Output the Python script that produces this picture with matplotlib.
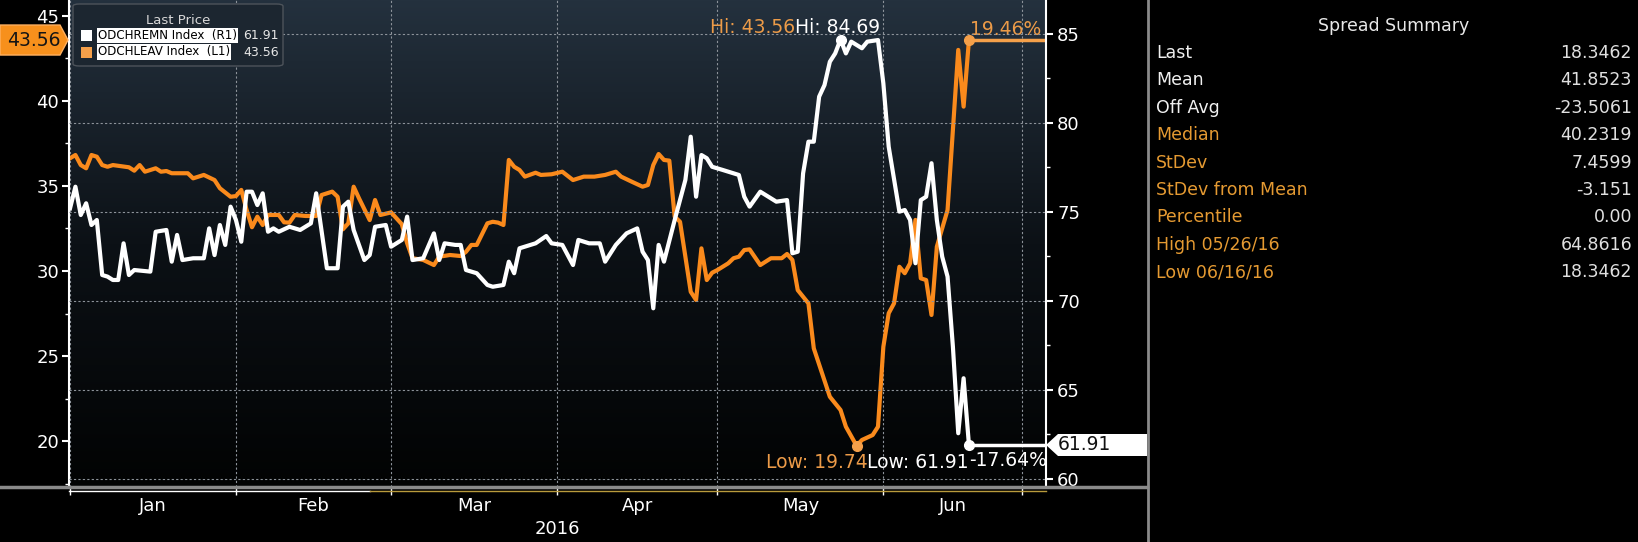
import matplotlib.pyplot as plt
import numpy as np
import pandas as pd
from matplotlib.colors import LinearSegmentedColormap
from matplotlib.lines import Line2D
from matplotlib.patches import Polygon, Rectangle, FancyBboxPatch
from matplotlib.ticker import MultipleLocator
from matplotlib.transforms import IdentityTransform

# day offsets from 2016-01-01 and values
remn_day = [0, 1, 2, 3, 4, 5, 6, 7, 8, 9, 10, 11, 12, 15, 16, 18, 19, 20, 21, 23, 25, 26, 27, 28, 29,
            30, 31, 32, 33, 34, 35, 36, 37, 38, 39, 41, 43, 45, 46, 48, 50, 51, 52, 53, 55, 56, 57, 59,
            60, 62, 63, 64, 66, 68, 69, 70, 72, 73, 74, 76, 78, 79, 81, 82, 83, 84, 87, 89, 90, 92, 94,
            95, 97, 99, 100, 102, 104, 106, 107, 108, 109, 110, 111, 113, 115, 116, 117, 118, 119, 120,
            122, 124, 125, 126, 127, 129, 132, 134, 135, 136, 137, 138, 139, 140, 141, 142, 143, 144,
            145, 146, 148, 149, 151, 152, 153, 155, 156, 157, 158, 159, 160, 161, 162, 163, 164, 165,
            166, 167, 168]
remn_val = [75.21, 76.42, 74.83, 75.49, 74.27, 74.55, 71.46, 71.37, 71.18, 71.18, 73.24, 71.46, 71.74,
            71.65, 73.89, 73.99, 72.21, 73.71, 72.30, 72.40, 72.40, 74.08, 72.58, 74.27, 73.15, 75.30,
            74.55, 73.33, 76.14, 76.14, 75.39, 76.05, 73.89, 74.08, 73.89, 74.17, 73.99, 74.36, 76.05,
            71.84, 71.84, 75.30, 75.58, 73.99, 72.30, 72.58, 74.17, 74.27, 73.05, 73.43, 74.74, 72.30,
            72.40, 73.80, 72.30, 73.24, 73.15, 73.15, 71.74, 71.56, 70.90, 70.80, 70.90, 72.21, 71.56,
            72.96, 73.24, 73.65, 73.24, 73.15, 72.02, 73.43, 73.24, 73.24, 72.21, 73.15, 73.80, 74.08,
            72.77, 72.30, 69.59, 73.15, 72.21, 74.55, 76.80, 79.23, 75.86, 78.20, 78.02, 77.54, 77.36,
            77.17, 77.08, 75.86, 75.30, 76.14, 75.58, 75.67, 72.68, 72.77, 77.17, 78.95, 78.95, 81.48,
            82.13, 83.44, 83.91, 84.69, 83.91, 84.57, 84.20, 84.57, 84.66, 82.23, 78.67, 75.02, 75.11,
            74.55, 72.12, 75.67, 75.86, 77.74, 74.55, 72.49, 71.37, 67.43, 62.57, 65.66, 61.91]

leav_day = [0, 1, 2, 3, 4, 5, 6, 7, 8, 11, 12, 13, 14, 16, 17, 18, 19, 22, 23, 25, 27, 28, 30, 31, 32,
            33, 34, 35, 36, 37, 39, 40, 41, 42, 44, 46, 47, 49, 50, 51, 52, 53, 54, 56, 57, 58, 60, 62,
            63, 64, 66, 68, 69, 71, 73, 74, 75, 76, 78, 79, 80, 81, 82, 83, 84, 85, 87, 88, 90, 92, 94,
            96, 98, 100, 102, 103, 105, 107, 108, 109, 110, 111, 112, 113, 114, 115, 116, 117, 118, 119,
            120, 121, 123, 124, 125, 126, 127, 129, 131, 133, 134, 135, 136, 138, 139, 142, 144, 145,
            147, 148, 150, 151, 152, 153, 154, 155, 156, 157, 158, 159, 160, 161, 162, 164, 166, 167, 168]
leav_val = [36.62, 36.81, 36.22, 36.03, 36.81, 36.71, 36.22, 36.12, 36.22, 36.09, 35.89, 36.22, 35.83,
            36.03, 35.83, 35.87, 35.74, 35.74, 35.44, 35.64, 35.34, 34.86, 34.36, 34.40, 34.76, 33.58,
            32.57, 33.19, 32.70, 33.29, 33.29, 32.86, 32.84, 33.29, 33.23, 33.23, 34.46, 34.66, 34.36,
            32.45, 32.80, 34.95, 34.27, 32.99, 34.17, 33.29, 33.44, 32.75, 31.63, 30.75, 30.65, 30.35,
            30.84, 30.94, 30.88, 31.13, 31.53, 31.53, 32.80, 32.89, 32.84, 32.70, 36.52, 36.12, 35.93,
            35.54, 35.77, 35.64, 35.68, 35.83, 35.34, 35.54, 35.54, 35.64, 35.83, 35.54, 35.24, 34.95,
            35.05, 36.22, 36.87, 36.52, 36.48, 33.19, 32.89, 30.84, 28.78, 28.30, 31.33, 29.47, 29.90,
            30.06, 30.45, 30.75, 30.84, 31.23, 31.27, 30.35, 30.75, 30.75, 31.00, 30.65, 28.88, 28.10,
            25.46, 22.62, 21.84, 20.86, 19.74, 20.08, 20.37, 20.86, 25.55, 27.52, 28.10, 30.25, 29.87,
            30.45, 33.00, 29.57, 29.47, 27.42, 31.43, 33.58, 42.98, 39.65, 43.56]

months = ["Jan", "Feb", "Mar", "Apr", "May", "Jun"]
last_tick_day = 178
legend_names = ["ODCHREMN Index  (R1)", "ODCHLEAV Index  (L1)"]
pct_changes = ["-17.64%", "19.46%"]

summary_labels = ["Last", "Mean", "Off Avg", "Median", "StDev", "StDev from Mean",
                  "Percentile", "High 05/26/16", "Low 06/16/16"]
summary_values = ["18.3462", "41.8523", "-23.5061", "40.2319", "7.4599", "-3.151",
                  "0.00", "64.8616", "18.3462"]

ORANGE = "#fa8a1c"
ORANGE_TXT = "#ec9b48"
SUM_ORANGE = "#e59a32"
GRID = "#8d939a"

W, H = 1638, 542
fig = plt.figure(figsize=(W / 100, H / 100), dpi=100, facecolor="black")
rect = [69 / W, 1 - 487 / H, (1046 - 69) / W, 487 / H]

# gradient background
bg = fig.add_axes(rect, zorder=0)
cmap = LinearSegmentedColormap.from_list("bb", ["#24313e", "#0c1116", "#020303"])
bg.imshow(np.linspace(0, 1, 256).reshape(-1, 1), cmap=cmap, aspect="auto", extent=[0, 1, 0, 1])
bg.set_axis_off()

ax = fig.add_axes(rect, zorder=1)
ax.patch.set_visible(False)
ax2 = ax.twinx()
ax2.patch.set_visible(False)

ax.plot(leav_day, leav_val, color=ORANGE, lw=3)
ax2.plot(remn_day, remn_val, color="white", lw=3)

xmax = 182.4
ax.set_xlim(-0.2, xmax)
ax.set_ylim(17.32, 45.91)
ax2.set_ylim(59.55, 86.91)

# month boundaries
start = pd.Timestamp("2016-01-01")
bounds = [(d - start).days for d in pd.date_range(start, periods=6, freq="MS")] + [last_tick_day]
mids = [(a + b) / 2 for a, b in zip(bounds[:-1], bounds[1:])]
ax.set_xticks(bounds)
ax.set_xticklabels([])
ax.set_xticks(mids, minor=True)
ax.set_xticklabels(months, minor=True)
ax.tick_params(axis="x", which="major", length=6, width=1, color="white", direction="out")
ax.tick_params(axis="x", which="minor", length=0, labelsize=13, labelcolor="white", pad=7)
ax.set_xlabel("2016", color="white", fontsize=13, labelpad=4)

ax.set_yticks([20, 25, 30, 35, 40, 45])
ax.yaxis.set_minor_locator(MultipleLocator(2.5))
ax.tick_params(axis="y", which="major", length=5, width=1.5, color="white",
               labelsize=13, labelcolor="white", pad=2)
ax.tick_params(axis="y", which="minor", length=3, width=1, color="white")
ax2.set_yticks([60, 65, 70, 75, 80, 85])
ax2.yaxis.set_minor_locator(MultipleLocator(2.5))
ax2.tick_params(axis="y", which="major", length=5, width=1.5, color="white",
                labelsize=13, labelcolor="white", pad=3)
ax2.tick_params(axis="y", which="minor", length=3, width=1, color="white")

ax.grid(axis="x", which="major", color=GRID, linestyle=(0, (2, 2)), lw=0.8)
ax2.grid(axis="y", which="major", color=GRID, linestyle=(0, (2, 2)), lw=0.8)
ax.set_axisbelow(True)

for s in ["top", "bottom", "right"]:
    ax.spines[s].set_visible(False)
    ax2.spines[s].set_visible(False) if s != "right" else None
ax.spines["left"].set_color("white")
ax.spines["left"].set_linewidth(1.5)
ax2.spines["left"].set_visible(False)
ax2.spines["right"].set_color("white")
ax2.spines["right"].set_linewidth(1.5)

# markers, last-value extensions
hi_i = int(np.argmax(remn_val))
lo_i = int(np.argmin(leav_val))
ax2.hlines(remn_val[-1], remn_day[-1], xmax, color="white", lw=2.5)
ax.hlines(leav_val[-1], leav_day[-1], xmax, color="#f5a04a", lw=2.5)
ax2.plot(remn_day[hi_i], remn_val[hi_i], "o", color="white", ms=7, zorder=5)
ax2.plot(remn_day[-1], remn_val[-1], "o", color="white", ms=7, zorder=5)
ax.plot(leav_day[lo_i], leav_val[lo_i], "o", color="#f5a04a", ms=7, zorder=5)
ax.plot(leav_day[-1], leav_val[-1], "o", color="#f5a04a", ms=7, zorder=5)

fs = 13.5
hi_txt = ax2.annotate(f"Hi: {remn_val[hi_i]:.2f}", xy=(remn_day[hi_i], remn_val[hi_i]),
                      xytext=(-3, 7), textcoords="offset pixels", ha="center", va="baseline",
                      color="white", fontsize=fs)
ax2.annotate(f"Hi: {max(leav_val):.2f}", xy=(0, 0), xycoords=hi_txt, ha="right", va="bottom",
             color=ORANGE_TXT, fontsize=fs)
ax.annotate(pct_changes[1], xy=(leav_day[-1], leav_val[-1]), xytext=(1, 5),
            textcoords="offset pixels", ha="left", va="baseline", color=ORANGE_TXT, fontsize=fs)
lo_txt = ax2.annotate(f"Low: {min(remn_val):.2f}", xy=(remn_day[-1], remn_val[-1]),
                      xytext=(0, -23), textcoords="offset pixels", ha="right", va="baseline",
                      color="white", fontsize=fs)
ax2.annotate(f"Low: {leav_val[lo_i]:.2f}", xy=(0, 0), xycoords=lo_txt, ha="right", va="bottom",
             color=ORANGE_TXT, fontsize=fs)
ax2.annotate(pct_changes[0], xy=(remn_day[-1], remn_val[-1]), xytext=(0, -21),
             textcoords="offset pixels", ha="left", va="baseline", color="white", fontsize=fs)

# last value tags on both axes (display pixels)
ident = IdentityTransform()
yl = ax.transData.transform((0, leav_val[-1]))[1]
fig.add_artist(Polygon([(0, yl - 15), (60, yl - 15), (68, yl), (60, yl + 15), (0, yl + 15)],
                       closed=True, facecolor="#f7901c", edgecolor="#ffb060", lw=1,
                       transform=ident, zorder=5))
fig.text(34, yl, f"{leav_val[-1]:.2f}", transform=ident, ha="center", va="center",
         color="#151515", fontsize=fs, zorder=6)
yr = ax2.transData.transform((0, remn_val[-1]))[1]
fig.add_artist(Polygon([(1046, yr), (1058, yr + 11), (1147, yr + 11), (1147, yr - 11), (1058, yr - 11)],
                       closed=True, facecolor="white", edgecolor="none", transform=ident, zorder=5))
fig.text(1058, yr, f"{remn_val[-1]:.2f}", transform=ident, ha="left", va="center",
         color="#111111", fontsize=fs, zorder=6)


def fx(x):
    return x / W


def fy(y):
    return 1 - y / H


# legend box
fig.add_artist(FancyBboxPatch((fx(73), fy(66)), fx(210), 62 / H,
                              boxstyle="round,pad=0,rounding_size=0.004",
                              facecolor="#1c2630", edgecolor="#4d535a", lw=1,
                              transform=fig.transFigure, zorder=4))
fig.text(fx(178), fy(20), "Last Price", ha="center", va="center", color="#d8d8d8",
         fontsize=9.5, zorder=6)
legend_colors = ["white", "#f5a04a"]
legend_last = [remn_val[-1], leav_val[-1]]
for i, (name, col, val) in enumerate(zip(legend_names, legend_colors, legend_last)):
    yc = 35.5 + 16.5 * i
    fig.add_artist(Rectangle((fx(81), fy(yc + 5.5)), fx(11), 11 / H, facecolor=col,
                             edgecolor="none", transform=fig.transFigure, zorder=6))
    fig.text(fx(98), fy(yc), name, ha="left", va="center", color="black", fontsize=8.6,
             bbox=dict(facecolor="white", edgecolor="none", pad=0.8), zorder=6)
    fig.text(fx(243), fy(yc), f"{val:.2f}", ha="left", va="center", color="#e6e6e6",
             fontsize=9, zorder=6)

# bottom rules and panel separator
fig.add_artist(Line2D([0, fx(1147)], [fy(487)] * 2, color="#8a8a8a", lw=2.5))
fig.add_artist(Line2D([fx(69), fx(370)], [fy(490.5)] * 2, color="white", lw=1))
fig.add_artist(Line2D([fx(370), fx(1046)], [fy(490.5)] * 2, color="#b89a3c", lw=1))
fig.add_artist(Line2D([fx(1148)] * 2, [0, 1], color="#8a8a8a", lw=2))

# spread summary panel
fig.text(fx(1394), fy(26), "Spread Summary", ha="center", va="center", color="#e8e8e8", fontsize=12.5)
for i, (lab, val) in enumerate(zip(summary_labels, summary_values)):
    y = 53 + 27.4 * i
    fig.text(fx(1156), fy(y), lab, ha="left", va="center",
             color="#f0f0f0" if i < 3 else SUM_ORANGE, fontsize=12.5)
    fig.text(fx(1632), fy(y), val, ha="right", va="center", color="#e0e0e0", fontsize=12.5)

fig.savefig("out.png", dpi=100, facecolor="black")
